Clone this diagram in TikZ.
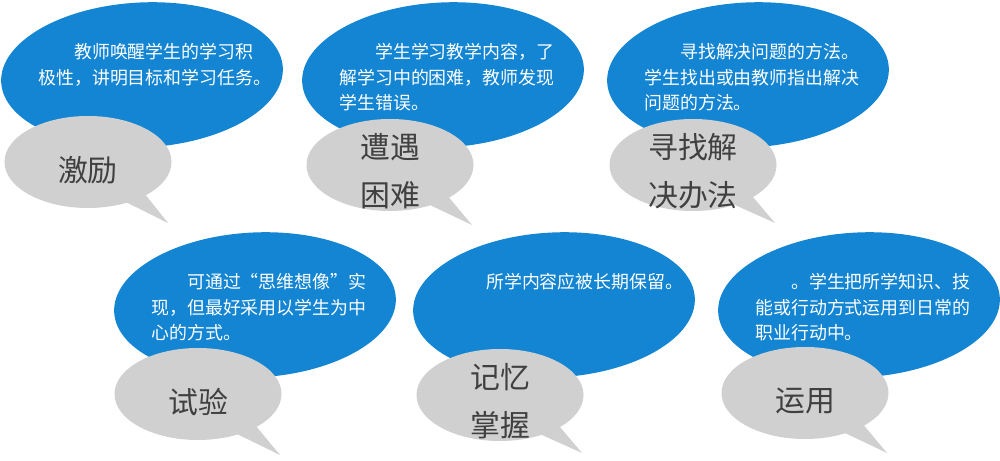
\documentclass[tikz,border=0pt]{standalone}
\usepackage{fontspec}
\newfontfamily\zhfont{Noto Sans CJK SC}
\usepackage{tikz}
\usetikzlibrary{shapes,shapes.geometric,shapes.callouts,positioning,calc}
\definecolor{bubbleblue}{RGB}{19,133,210}
\definecolor{bubblegray}{RGB}{208,208,208}
\definecolor{labelgray}{RGB}{64,64,64}

\begin{document}
\begin{tikzpicture}[
    bluebubble/.style={ellipse, fill=bubbleblue, minimum width=5.64cm, minimum height=2.9cm, inner sep=0pt, rotate=3},
    graybubble/.style={ellipse callout, fill=bubblegray, minimum width=3.34cm, minimum height=1.84cm, inner sep=0pt, callout pointer arc=16},
    bluetext/.style={anchor=north west, inner sep=0pt, align=left, text=white, font=\zhfont\fontsize{10.2}{14.6}\selectfont},
    graytext/.style={inner sep=0pt, align=center, text=labelgray, font=\zhfont\fontsize{17}{27}\selectfont}
]
    \useasboundingbox (0,0) rectangle (20,-9.22);

    \node[bluebubble] (b1) at (2.84,-1.50) {};
    \node[bluebubble] (b2) at (8.86,-1.50) {};
    \node[bluebubble] (b3) at (14.96,-1.50) {};
    \node[bluebubble] (b4) at (5.10,-6.10) {};
    \node[bluebubble] (b5) at (11.08,-6.10) {};
    \node[bluebubble] (b6) at (17.18,-6.10) {};

    \node[graybubble, callout absolute pointer={(3.36,-4.46)}] (g1) at (1.76,-3.24) {};
    \node[graybubble, callout absolute pointer={(9.44,-4.50)}] (g2) at (7.80,-3.30) {};
    \node[graybubble, callout absolute pointer={(15.50,-4.46)}] (g3) at (13.86,-3.30) {};
    \node[graybubble, callout absolute pointer={(5.60,-9.10)}] (g4) at (3.96,-7.88) {};
    \node[graybubble, callout absolute pointer={(11.64,-9.06)}] (g5) at (10.00,-7.90) {};
    \node[graybubble, callout absolute pointer={(17.74,-9.06)}] (g6) at (16.10,-7.86) {};

    \node[bluetext] (t1) at ([shift={(-2.08,0.64)}]b1.center) {\hspace*{2em}教师唤醒学生的学习积\\极性，讲明目标和学习任务。};
    \node[bluetext] (t2) at ([shift={(-2.08,0.64)}]b2.center) {\hspace*{2em}学生学习教学内容，了\\解学习中的困难，教师发现\\学生错误。};
    \node[bluetext] (t3) at ([shift={(-2.08,0.64)}]b3.center) {\hspace*{2em}寻找解决问题的方法。\\学生找出或由教师指出解决\\问题的方法。};
    \node[bluetext] (t4) at ([shift={(-2.08,0.64)}]b4.center) {\hspace*{2em}可通过“思维想像”实\\现，但最好采用以学生为中\\心的方式。};
    \node[bluetext] (t5) at ([shift={(-2.08,0.64)}]b5.center) {\hspace*{2em}所学内容应被长期保留。};
    \node[bluetext] (t6) at ([shift={(-2.08,0.64)}]b6.center) {\hspace*{2em}。学生把所学知识、技\\能或行动方式运用到日常的\\职业行动中。};

    \node[graytext] (l1) at ([yshift=-0.16cm]g1.center) {激励};
    \node[graytext] (l2) at ([yshift=-0.12cm]g2.center) {遭遇\\困难};
    \node[graytext] (l3) at ([yshift=-0.12cm]g3.center) {寻找解\\决办法};
    \node[graytext] (l4) at ([yshift=-0.16cm]g4.center) {试验};
    \node[graytext] (l5) at ([yshift=-0.12cm]g5.center) {记忆\\掌握};
    \node[graytext] (l6) at ([yshift=-0.16cm]g6.center) {运用};
\end{tikzpicture}
\end{document}
